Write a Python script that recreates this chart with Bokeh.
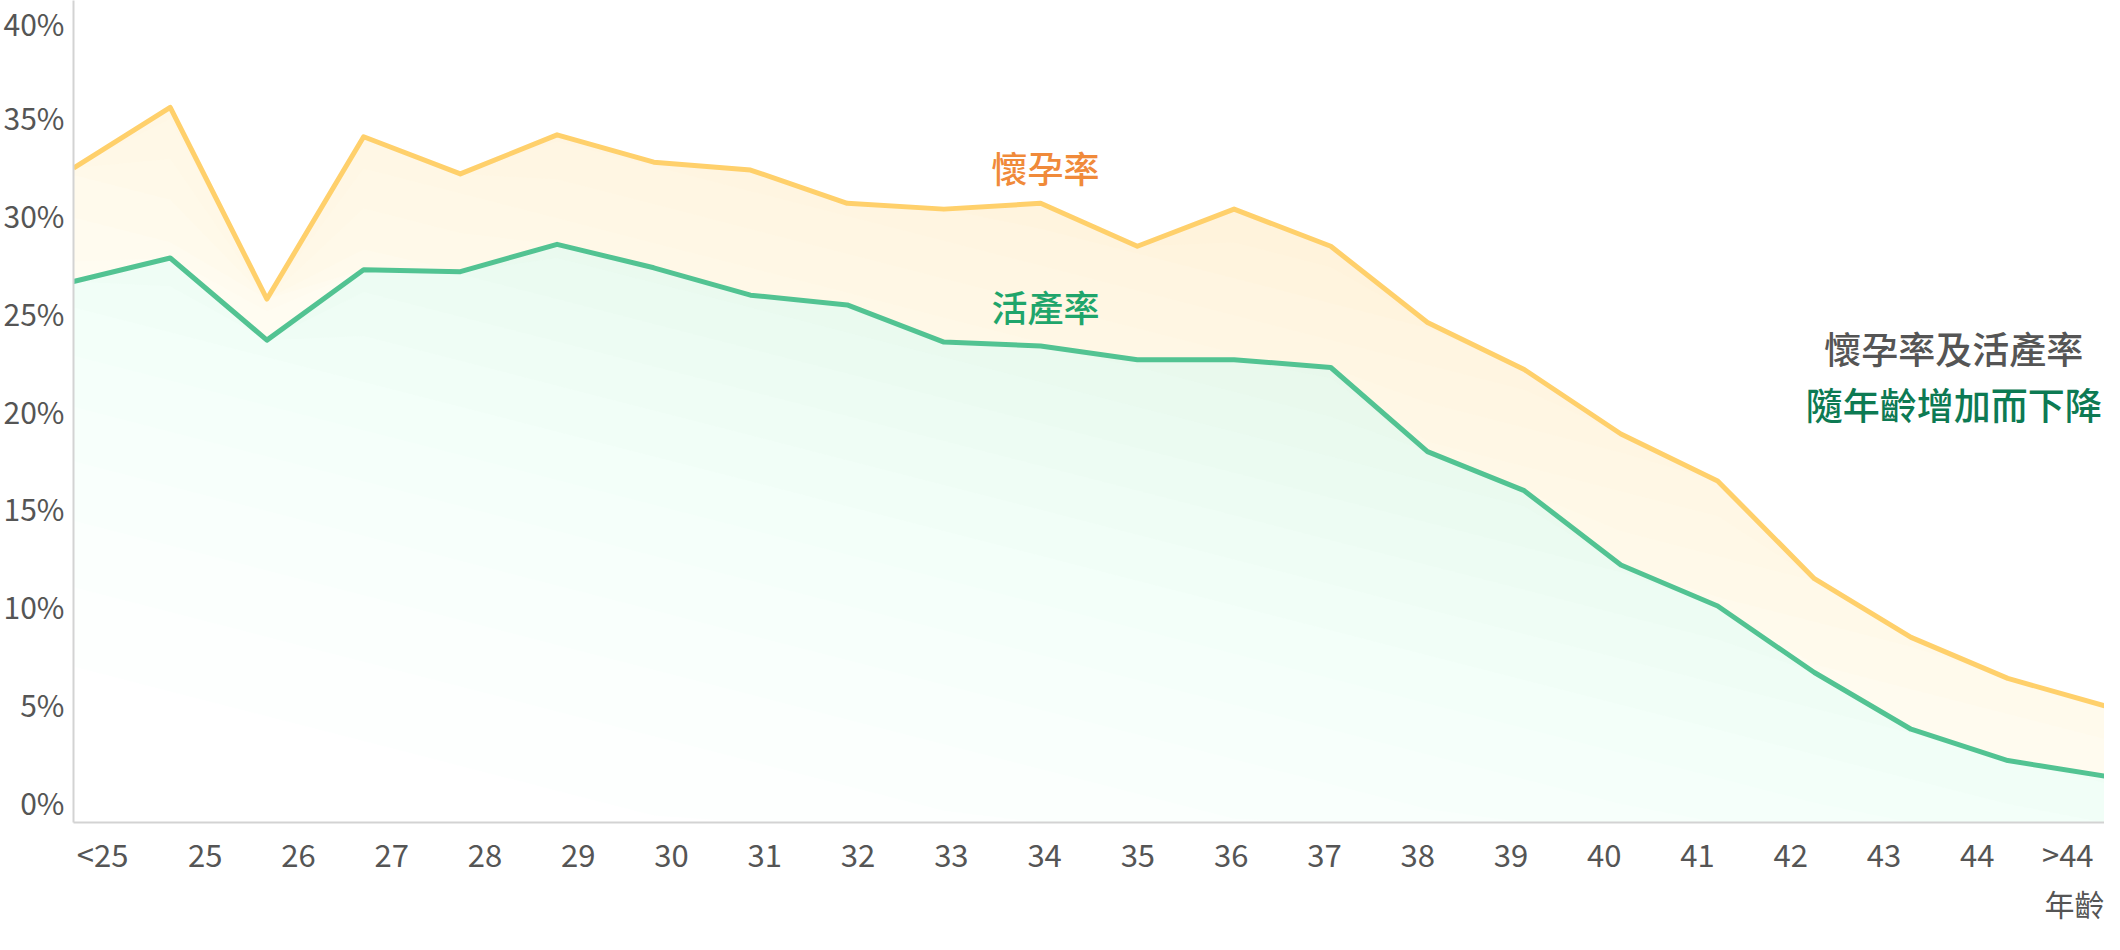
import numpy as np
from bokeh.plotting import figure
from bokeh.models import (Range1d, LinearAxis, FixedTicker, CustomJSTickFormatter,
                          PrintfTickFormatter, Title)
from bokeh.core.properties import value
from bokeh.embed import file_html
from bokeh.resources import INLINE

# ---------------- data ----------------
age_labels = ["<25", "25", "26", "27", "28", "29", "30", "31", "32", "33", "34",
              "35", "36", "37", "38", "39", "40", "41", "42", "43", "44", ">44"]
pregnancy_rate = [32.4, 35.5, 25.7, 34.0, 32.1, 34.1, 32.7, 32.3, 30.6, 30.3, 30.6,
                  28.4, 30.3, 28.4, 24.5, 22.1, 18.8, 16.4, 11.4, 8.4, 6.3, 4.9]
live_birth_rate = [26.6, 27.8, 23.6, 27.2, 27.1, 28.5, 27.3, 25.9, 25.4, 23.5, 23.3,
                   22.6, 22.6, 22.2, 17.9, 15.9, 12.1, 10.0, 6.6, 3.7, 2.1, 1.3]
y_ticks = [0, 5, 10, 15, 20, 25, 30, 35, 40]

# ---------------- styles ----------------
FONT = "Noto Sans CJK TC"
FONT_MED = "'Noto Sans CJK TC Medium', 'Noto Sans CJK TC'"
GREY = "#555555"
AXIS_GREY = "#D3D3D3"
YELLOW = "#FFD06B"
GREEN = "#52C392"
ORANGE_TXT = "#F08A3A"
GREEN_TXT = "#1FA56B"
DARK_GREEN_TXT = "#0D7A53"

Y0, Y1 = -1.07, 40.97
xs = np.arange(len(age_labels), dtype=float)
yel = np.array(pregnancy_rate)
grn = np.array(live_birth_rate)

p = figure(width=2104, height=926, output_backend="svg", toolbar_location=None,
           x_range=Range1d(0, len(age_labels) - 1), y_range=Range1d(Y0, Y1),
           x_axis_location=None,
           min_border_left=68, min_border_right=0, min_border_top=0,
           min_border_bottom=104)
p.outline_line_color = None
p.grid.visible = False
p.background_fill_color = "white"
p.border_fill_color = "white"

# y axis
ya = p.yaxis[0]
ya.ticker = FixedTicker(ticks=y_ticks)
ya.formatter = PrintfTickFormatter(format="%d%%")
ya.major_tick_line_color = None
ya.minor_tick_line_color = None
ya.major_tick_out = 0
ya.minor_tick_out = 0
ya.axis_line_color = AXIS_GREY
ya.axis_line_width = 2
ya.major_label_text_font = FONT
ya.major_label_text_font_size = "30px"
ya.major_label_text_color = GREY
ya.major_label_standoff = 9

# label axis (labels sit on their own evenly spaced scale)
p.extra_x_ranges = {"lab": Range1d(-0.412, 21.364)}
lab_ticks = [-0.1] + list(range(1, len(age_labels) - 1)) + [20.97]
xa = LinearAxis(x_range_name="lab", ticker=FixedTicker(ticks=lab_ticks),
                formatter=CustomJSTickFormatter(args=dict(labs=age_labels),
                                                code="return labs[Math.round(tick)];"))
xa.major_tick_line_color = None
xa.minor_tick_line_color = None
xa.major_tick_out = 0
xa.minor_tick_out = 0
xa.axis_line_color = AXIS_GREY
xa.axis_line_width = 2
xa.major_label_text_font = FONT
xa.major_label_text_font_size = "31px"
xa.major_label_text_color = GREY
xa.major_label_standoff = 8
p.add_layout(xa, "below")

# axis name under the tick labels, right aligned
p.add_layout(Title(text="年齡", align="right", text_font=FONT,
                   text_font_size="30px", text_font_style="normal",
                   text_color=GREY, standoff=0), "below")

# ---------------- gradient fills (layered) ----------------
N = 30
nx = len(age_labels) - 1


def level_boundary(k):
    tk = (k / N) ** (2.0 / 3.0)
    return (tk - 0.4 * xs / nx) * 40.0 / 0.6


for k in range(1, N):
    L = level_boundary(k)
    lo = np.minimum(np.maximum(grn, L), yel)
    if np.all(yel - lo < 1e-9):
        continue
    p.varea(x=xs, y1=lo, y2=yel, fill_color="#FFF2C6", fill_alpha=1.0 / (N - k + 1))

for k in range(1, N):
    L = level_boundary(k)
    lo = np.minimum(np.maximum(Y0, L), grn)
    if np.all(grn - lo < 1e-9):
        continue
    p.varea(x=xs, y1=lo, y2=grn, fill_color="#D2F3DA", fill_alpha=1.0 / (N - k + 1))

# ---------------- lines ----------------
p.line(xs, grn, line_color=GREEN, line_width=5, line_join="round")
p.line(xs, yel, line_color=YELLOW, line_width=5, line_join="round")

# ---------------- texts ----------------
p.text(x=[10.05], y=[32.43], text=["懷孕率"], text_font=value(FONT_MED),
       text_font_size="36px", text_color=ORANGE_TXT,
       text_align="center", text_baseline="middle")
p.text(x=[10.05], y=[25.37], text=["活產率"], text_font=value(FONT_MED),
       text_font_size="36px", text_color=GREEN_TXT,
       text_align="center", text_baseline="middle")
p.text(x=[19.44], y=[23.22], text=["懷孕率及活產率"], text_font=value(FONT_MED),
       text_font_size="37px", text_color=GREY,
       text_align="center", text_baseline="middle")
p.text(x=[19.44], y=[20.31], text=["隨年齡增加而下降"], text_font=value(FONT_MED),
       text_font_size="37px", text_color=DARK_GREEN_TXT,
       text_align="center", text_baseline="middle")

open("out.html", "w").write(file_html(p, INLINE))
